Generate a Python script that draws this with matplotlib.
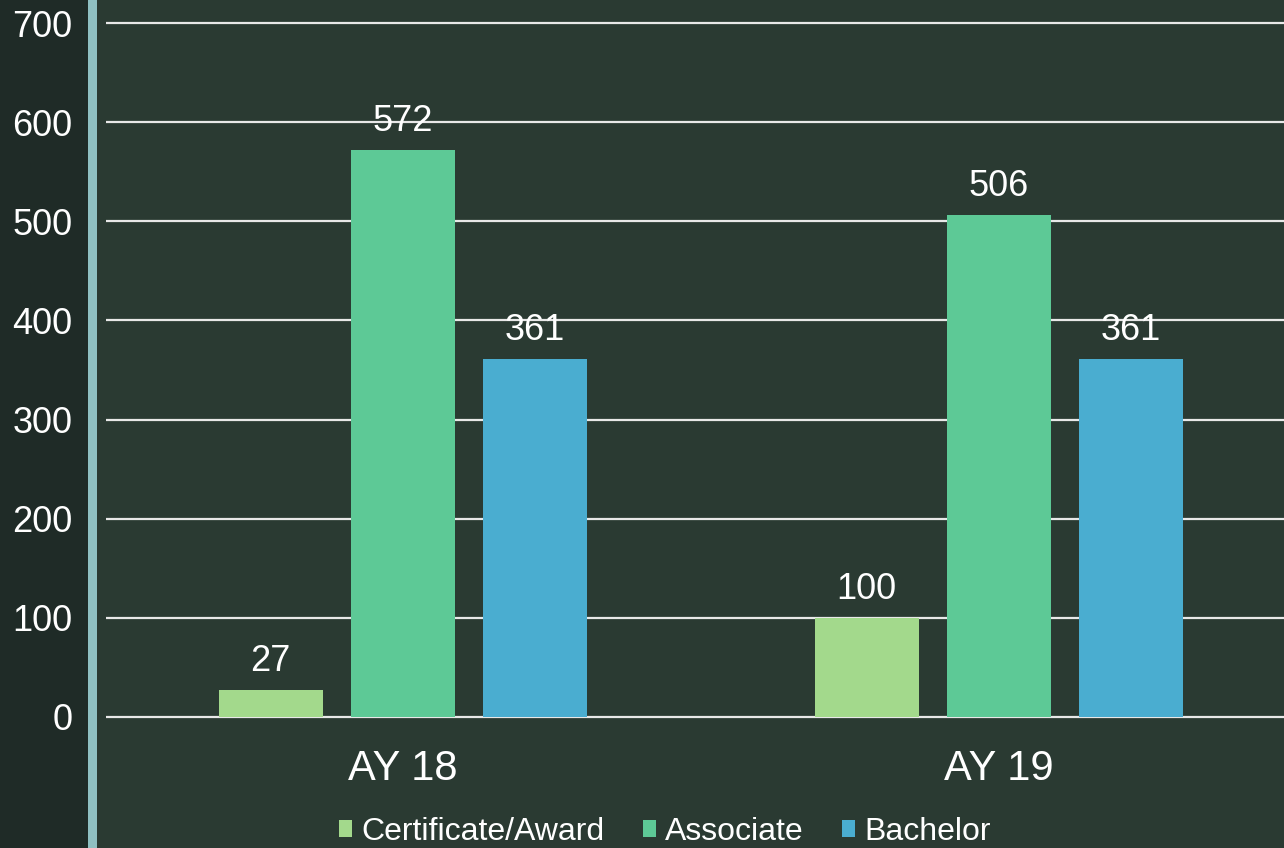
import matplotlib.pyplot as plt
import numpy as np
import matplotlib
from matplotlib.patches import Rectangle

matplotlib.rcParams['font.family'] = ['Liberation Sans', 'DejaVu Sans']

years = ['AY 18', 'AY 19']
series = ['Certificate/Award', 'Associate', 'Bachelor']
certificate = [27, 100]
associate = [572, 506]
bachelor = [361, 361]
colors = ['#a3d98c', '#5dc996', '#4aadd0']

bg = '#2a3a32'
fig = plt.figure(figsize=(12.84, 8.48), dpi=100, facecolor=bg)

# left dark strip and light divider
fig.patches.append(Rectangle((0, 0), 88 / 1284, 1, transform=fig.transFigure,
                             facecolor='#1f2b27', edgecolor='none', zorder=0))
fig.patches.append(Rectangle((88 / 1284, 0), 9 / 1284, 1, transform=fig.transFigure,
                             facecolor='#8fc0c2', edgecolor='none', zorder=0))

ax = fig.add_axes([106 / 1284, 0.1428, 1 - 106 / 1284, 0.8417])
ax.set_zorder(2)
ax.set_facecolor('none')

x = np.arange(len(years))
step = 132 / 596
width = 104 / 596
for i, (vals, name) in enumerate(zip([certificate, associate, bachelor], series)):
    bars = ax.bar(x + (i - 1) * step, vals, width, color=colors[i], label=name, zorder=3)
    ax.bar_label(bars, padding=8, color='white', fontsize=26)

ax.set_ylim(-10, 710)
ax.set_xlim(-0.498, 1.479)
ax.set_yticks(range(0, 701, 100))
ax.set_xticks(x)
ax.set_xticklabels(years)
ax.tick_params(axis='y', length=0, pad=24, labelsize=26, labelcolor='white')
ax.tick_params(axis='x', length=0, pad=16, labelsize=30, labelcolor='white')
ax.grid(axis='y', color='#e8e8e8', linewidth=1.6, zorder=1)
for s in ax.spines.values():
    s.set_visible(False)

fig.legend(loc='center', bbox_to_anchor=(0.518, 0.019), ncol=3, frameon=False,
           fontsize=23, labelcolor='white', handlelength=0.4, handleheight=0.4,
           handletextpad=0.3, columnspacing=1.2)

plt.savefig('out.png', dpi=100, facecolor=bg)
